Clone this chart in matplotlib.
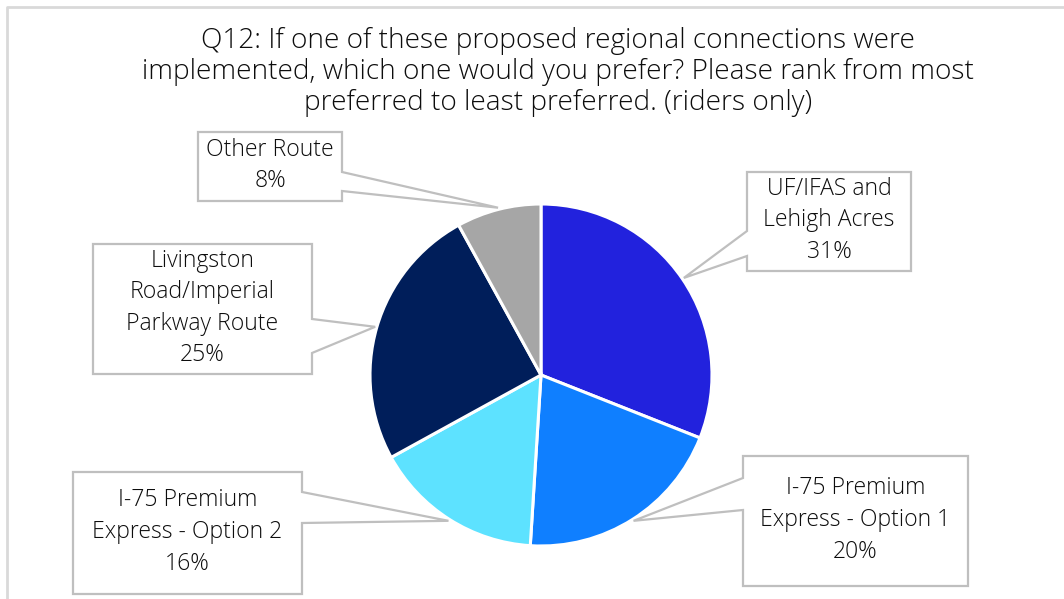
import numpy as np
import matplotlib
matplotlib.use("Agg")
import matplotlib.pyplot as plt
from matplotlib.patches import Polygon

plt.rcParams['font.family'] = ['Open Sans', 'DejaVu Sans']

title = ("Q12: If one of these proposed regional connections were\n"
         "implemented, which one would you prefer? Please rank from most\n"
         "preferred to least preferred. (riders only)")
categories = ["UF/IFAS and\nLehigh Acres",
              "I-75 Premium\nExpress - Option 1",
              "I-75 Premium\nExpress - Option 2",
              "Livingston\nRoad/Imperial\nParkway Route",
              "Other Route"]
values = [31, 20, 16, 25, 8]
colors = ["#2222DD", "#0F7FFF", "#5DE2FF", "#001E5A", "#A6A6A6"]

# box layout in pixel coords (x0, y0_top, x1, y1_bottom), side of leader, leader attach ys
boxes = [
    (747, 172, 911, 271, 'left', (231, 256)),
    (743, 456, 968, 586, 'left', (478, 510)),
    (73, 472, 302, 594, 'right', (492, 523)),
    (93, 244, 312, 374, 'right', (319, 353)),
    (198, 132, 342, 201, 'right', (172, 191)),
]

W, H = 1064, 599
fig = plt.figure(figsize=(W / 100, H / 100), dpi=100)
ax = fig.add_axes([0, 0, 1, 1])
ax.set_xlim(0, W)
ax.set_ylim(0, H)
ax.set_aspect('equal')
ax.axis('off')

cx, cy, r = 541, H - 375, 171
wedges, _ = ax.pie(values, colors=colors, startangle=90, counterclock=False,
                   center=(cx, cy), radius=r,
                   wedgeprops=dict(edgecolor='white', linewidth=2.2))
ax.set_xlim(0, W)
ax.set_ylim(0, H)

# frame border (left and top)
ax.plot([7, 7, W], [0, H - 7, H - 7], color='#D9D9D9', lw=2, solid_capstyle='butt')

ax.text(558, H - 72, title, ha='center', va='center', fontsize=20.2,
        color='#0d0d0d', linespacing=1.16, fontweight='light')

for w, cat, val, (x0, y0, x1, y1, side, (la, lb)) in zip(wedges, categories, values, boxes):
    mid = np.deg2rad((w.theta1 + w.theta2) / 2)
    tx = cx + r * 1.01 * np.cos(mid)
    ty = cy + r * 1.01 * np.sin(mid)
    Y0, Y1 = H - y0, H - y1
    La, Lb = H - la, H - lb
    if side == 'left':
        verts = [(x0, Y0), (x1, Y0), (x1, Y1), (x0, Y1), (x0, Lb), (tx, ty), (x0, La)]
    else:
        verts = [(x0, Y0), (x1, Y0), (x1, La), (tx, ty), (x1, Lb), (x1, Y1), (x0, Y1)]
    ax.add_patch(Polygon(verts, closed=True, facecolor='white', edgecolor='#BFBFBF',
                         lw=1.6, zorder=5))
    ax.text((x0 + x1) / 2, H - (y0 + y1) / 2 + 1, f"{cat}\n{val}%", ha='center', va='center',
            fontsize=16.6, color='#0d0d0d', linespacing=1.42, zorder=6, fontweight='light')

fig.savefig('out.png', dpi=100)
